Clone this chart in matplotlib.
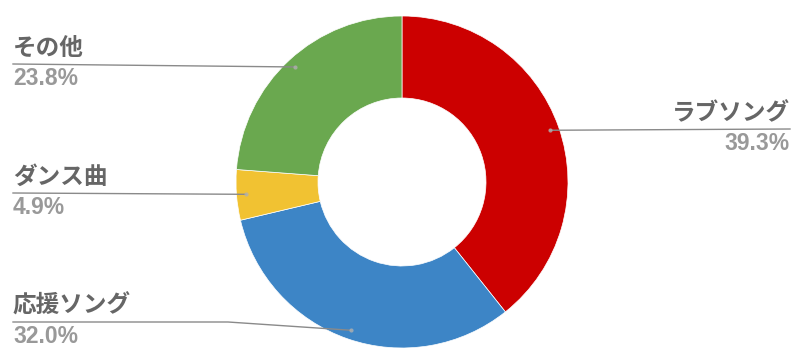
import numpy as np
import matplotlib.pyplot as plt

plt.rcParams['font.family'] = ['Noto Sans CJK JP', 'DejaVu Sans']

# data
labels = ["ラブソング", "応援ソング", "ダンス曲", "その他"]
shares = [39.3, 32.0, 4.9, 23.8]
colors = ["#cc0000", "#3d85c6", "#f1c232", "#6aa84f"]

W, H = 804, 364
cx, cy = 402, 364 - 182
r_out, r_in = 166, 84

# label anchor: (x of text edge, y of leader line in px from top, side, knee x)
label_pos = {
    "ラブソング": (790, 129, "right", None),
    "応援ソング": (13, 322, "left", 228),
    "ダンス曲": (13, 193, "left", None),
    "その他": (13, 64, "left", None),
}

fig = plt.figure(figsize=(W / 100, H / 100), dpi=100)
ax = fig.add_axes([0, 0, 1, 1])

wedges, _ = ax.pie(shares, colors=colors, startangle=90, counterclock=False,
                   center=(cx, cy), radius=r_out,
                   wedgeprops=dict(width=r_out - r_in, linewidth=0.5, edgecolor="white"))
ax.set_xlim(0, W)
ax.set_ylim(0, H)
ax.set_aspect("equal")
ax.axis("off")

for w, lab, val in zip(wedges, labels, shares):
    mid = np.deg2rad((w.theta1 + w.theta2) / 2)
    dx = cx + 0.945 * r_out * np.cos(mid)
    dy = cy + 0.945 * r_out * np.sin(mid)
    tx, ly, side, knee = label_pos[lab]
    ly = H - ly
    if knee is not None:
        ax.plot([tx, knee, dx], [ly, ly, dy], color="#8a8a8a", lw=1, zorder=3)
    else:
        ax.plot([tx, dx], [ly, dy], color="#8a8a8a", lw=1, zorder=3)
    ax.plot(dx, dy, "o", ms=3, color="#b0b0b0", alpha=0.8, mec="none", zorder=4)
    ax.text(tx, ly + 4, lab, ha=side, va="bottom", fontsize=17,
            color="#666666", fontweight="bold")
    ax.text(tx, ly - 3, f"{val:.1f}%", ha=side, va="top", fontsize=16.5,
            color="#999999", fontweight="bold", family=["Liberation Sans", "DejaVu Sans"])

fig.savefig("out.png", dpi=100)
